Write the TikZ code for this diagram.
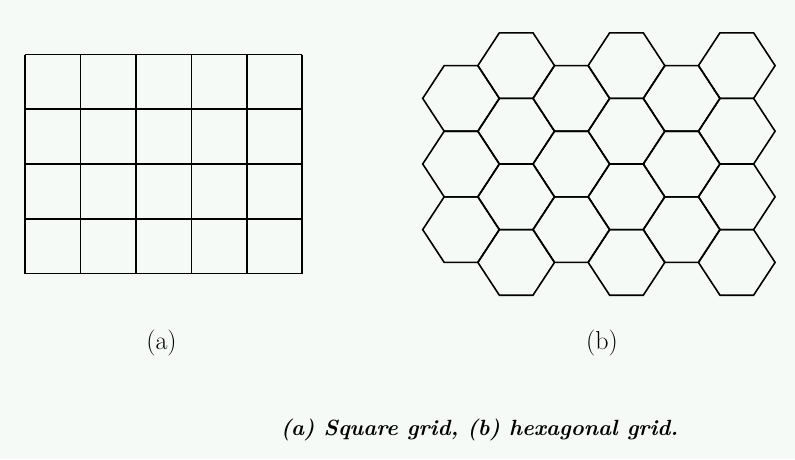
\documentclass[tikz,border=0pt]{standalone}
\usepackage{tikz}
\usetikzlibrary{positioning}
\definecolor{paper}{RGB}{246,250,246}

\begin{document}
\begin{tikzpicture}[
    x=1pt, y=-1pt,
    gridline/.style={line width=1.7pt, black},
    hexline/.style={line width=1.6pt, black, line join=miter},
    sub/.style={font=\fontsize{26}{30}\selectfont, inner sep=0pt},
    captext/.style={font=\fontsize{22}{26}\selectfont\bfseries\itshape, inner sep=0pt}
  ]
    \fill[paper] (0,0) rectangle (795,459);
    \useasboundingbox (0,0) rectangle (795,459);
    % square grid
    \foreach \i in {0,...,5}
      \draw[gridline] (25+55.45*\i,54.5) -- (25+55.45*\i,273.5);
    \foreach \j in {0,...,4}
      \draw[gridline] (25,54.5+54.75*\j) -- (302.25,54.5+54.75*\j);
    % hexagonal grid
    \foreach \c/\nrow/\ytop in {0/2/65.6, 1/3/32.8, 2/2/65.6, 3/3/32.8, 4/2/65.6, 5/3/32.8}{
      \foreach \r in {0,...,\nrow}{
        \draw[hexline] (422.7+55.15*\c, \ytop+32.8+65.6*\r)
          -- ++(21.5,-32.8) -- ++(33.65,0) -- ++(21.5,32.8)
          -- ++(-21.5,32.8) -- ++(-33.65,0) -- cycle;
      }
    }
    \node[sub] (la) at (161.5,343) {(a)};
    \node[sub] (lb) at (602,343) {(b)};
    \node[captext] (caption) at (479.5,430) {(a) Square grid, (b) hexagonal grid.};
  \end{tikzpicture}
\end{document}
